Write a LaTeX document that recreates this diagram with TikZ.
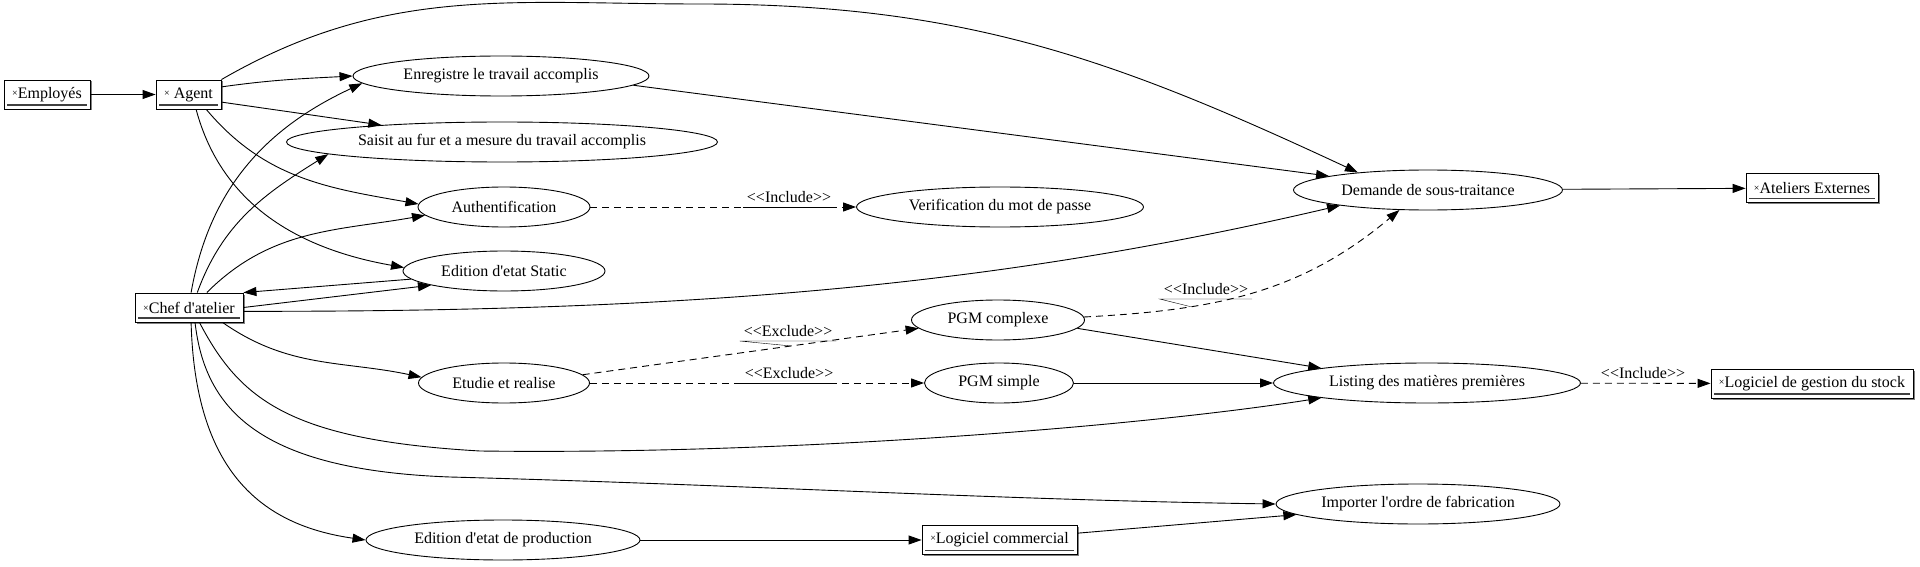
\documentclass[tikz,border=0pt]{standalone}
\usepackage{fontspec}
\setmainfont{Liberation Serif}
\usetikzlibrary{arrows.meta, shapes.geometric, shadows}
\newcommand{\actmark}{\raisebox{2pt}{\fontsize{10}{10}\selectfont ×}}

\begin{document}
\begin{tikzpicture}[x=1pt, y=1pt, font=\fontsize{16}{19}\selectfont,
  usecase/.style={ellipse, draw, line width=0.9pt, inner sep=0pt, minimum height=40pt},
  actor/.style={draw, line width=0.9pt, fill=white, inner sep=0pt, minimum height=29pt,
    drop shadow={shadow xshift=1.5pt, shadow yshift=-1.5pt, fill=gray, opacity=1},
    path picture={\draw[black!75, line width=1.4pt]
      ([shift={(3pt,4pt)}]path picture bounding box.south west) --
      ([shift={(-3pt,4pt)}]path picture bounding box.south east);}},
  rel/.style={-{Triangle[length=13pt, width=9pt]}, line width=0.9pt},
  incl/.style={rel, dash pattern=on 7pt off 5pt},
  stereo/.style={inner xsep=4pt, inner ysep=4pt, anchor=south}]
  \path[use as bounding box, fill=white] (0,0) rectangle (1920,-567);
  % --- use cases ---
  \foreach \n/\x/\y/\w/\t in {
      enr/501/76/296/Enregistre le travail accomplis,
      saisit/502/142/431/Saisit au fur et a mesure du travail accomplis,
      auth/504/207/172/Authentification,
      static/504/271/202/Edition d\textquotesingle etat Static,
      verif/1000/207/287/Verification du mot de passe,
      demande/1428/190/269/Demande de sous-traitance,
      complexe/998/320/173/PGM complexe,
      etudie/504/383/171/Etudie et realise,
      simple/999/383/149/PGM simple,
      listing/1427/383/307/Listing des matières premières,
      importer/1418/504/284/Importer l\textquotesingle ordre de fabrication,
      prod/503/540/274/Edition d\textquotesingle etat de production}
    {\node[usecase, minimum width=\w pt] (\n) at (\x,-\y) {\t};}
  % --- actors ---
  \foreach \n/\x/\y/\w/\t in {
      emp/47/94.5/86/\actmark Employés,
      agent/188.5/94.5/65/\actmark\ Agent,
      chef/189/307.5/108/\actmark Chef d\textquotesingle atelier,
      ateliers/1812/188/132/\actmark Ateliers Externes,
      stock/1812/383.5/202/\actmark Logiciel de gestion du stock,
      commercial/999.5/540/155/\actmark Logiciel commercial}
    {\node[actor, minimum width=\w pt] (\n) at (\x,-\y) {\t};}
  % --- agent ---
  \draw[rel] (emp) -- (agent);
  \draw[rel] (agent.13) to[out=8, in=183] (enr.west);
  \draw[rel] (agent.-13) -- (saisit.172);
  \draw[rel] (agent.-40) to[out=-50, in=170] (auth.178);
  \draw[rel] (agent.-63) to[out=-75, in=170] (static.178);
  \draw[rel] (agent.north east) to[out=30, in=180] (700,-4) to[out=0, in=155] (demande.166);
  \draw[rel] (enr.-4) -- (demande.172);
  % --- chef d'atelier ---
  \draw[rel] (chef.82) to[out=80, in=205] (enr.183);
  \draw[rel] (chef.61) to[out=70, in=212] (saisit.184);
  \draw[rel] (chef.40) to[out=45, in=190] (auth.186);
  \draw[rel] (static.185) -- (chef.north east);
  \draw[rel] (chef.east) -- (static.191);
  \draw[rel] (chef.-4) .. controls (700,-312) and (1000,-285) .. (demande.190);
  \draw[rel] (chef.-24) to[out=-35, in=168] (etudie.176);
  \draw[rel] (chef.-55) .. controls (240,-400) and (290,-440) .. (480,-451)
    .. controls (800,-455) and (1150,-425) .. (listing.188);
  \draw[rel] (chef.-68) .. controls (205,-410) and (260,-470) .. (450,-477)
    .. controls (750,-485) and (1000,-500) .. (importer.west);
  \draw[rel] (chef.-82) .. controls (195,-470) and (260,-525) .. (prod.west);
  % --- include / exclude ---
  \draw[incl] (auth) -- (verif);
  \node[stereo] (inc1) at (789,-207) {<{}<Include>{}>};
  \draw (inc1.south west) -- (inc1.south east);
  \draw[incl] (etudie.6) -- coordinate[pos=.62] (excmid) (complexe.186);
  \node[stereo] (exc1) at (788,-341) {<{}<Exclude>{}>};
  \draw (excmid) -- (exc1.south west) -- (exc1.south east);
  \draw[incl] (etudie) -- (simple);
  \node[stereo] (exc2) at (789,-383) {<{}<Exclude>{}>};
  \draw (exc2.south west) -- (exc2.south east);
  \draw[incl] (complexe.2) to[out=3, in=220] coordinate[pos=.3] (incmid) (demande.215);
  \node[stereo] (inc2) at (1206,-299) {<{}<Include>{}>};
  \draw (incmid) -- (inc2.south west) -- (inc2.south east);
  \draw[incl] (listing) -- (stock);
  \node[stereo] (inc3) at (1643,-383) {<{}<Include>{}>};
  % --- the rest ---
  \draw[rel] (complexe.-6) -- (listing.172);
  \draw[rel] (simple) -- (listing);
  \draw[rel] (demande) -- (ateliers);
  \draw[rel] (prod) -- (commercial);
  \draw[rel] (commercial.5) -- (importer.185);
\end{tikzpicture}
\end{document}
